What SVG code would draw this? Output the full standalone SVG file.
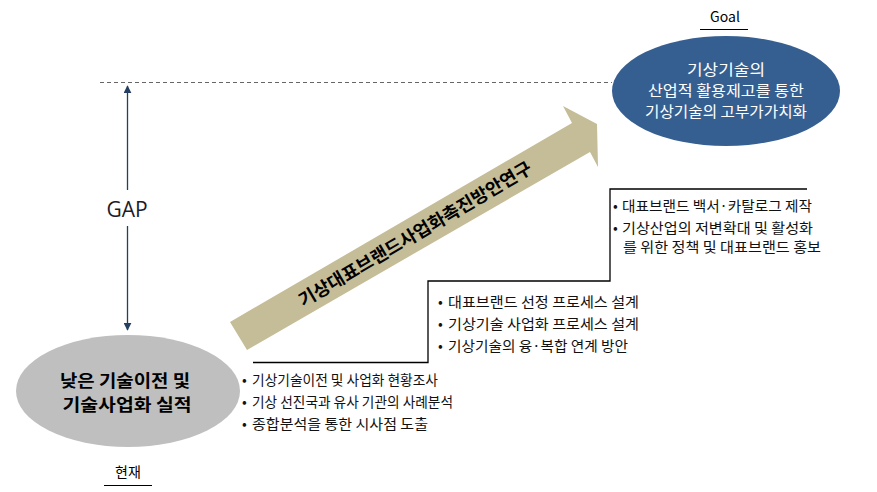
<svg xmlns="http://www.w3.org/2000/svg" width="877" height="492" viewBox="0 0 877 492">
<style>
.kr{font-family:"Noto Sans CJK KR","Noto Sans",sans-serif;}
.bul{font-size:14px;fill:#111;}
.gl{font-size:15px;fill:#fff;text-anchor:middle;}
.step{fill:none;stroke:#000;stroke-width:1.3;}
.gap{stroke:#243f60;stroke-width:1.3;fill:none;}
</style>
<defs>
<marker id="ah" viewBox="0 0 10 10" refX="9" refY="5" markerWidth="8" markerHeight="8" markerUnits="userSpaceOnUse" orient="auto">
<path d="M0,0 L10,5 L0,10 z" fill="#243f60"/>
</marker>
</defs>
<rect width="877" height="492" fill="#fff"/>

<g id="connectors">
<line x1="100" y1="82.5" x2="612" y2="82.5" stroke="#666" stroke-width="1.2" stroke-dasharray="4 3"/>
<line class="gap" x1="127.5" y1="190" x2="127.5" y2="86" marker-end="url(#ah)"/>
<line class="gap" x1="127.5" y1="226" x2="127.5" y2="330" marker-end="url(#ah)"/>
<polyline class="step" points="253,362.5 428,362.5 428,281 610,281 610,189 807,189"/>
</g>

<g id="gap-label">
<text x="127" y="217" font-family="Open Sans, sans-serif" font-size="21" fill="#1c1c2c" text-anchor="middle">GAP</text>
</g>

<g id="arrow">
<polygon points="230,322 572,123 563,106 597,124 598,167 590,152 247,350" fill="#c4bd97"/>
<text class="kr" transform="translate(415,234) rotate(-30.5)" x="0" y="6.5" font-size="18" font-weight="bold" fill="#000" text-anchor="middle" textLength="267" lengthAdjust="spacingAndGlyphs">기상대표브랜드사업화촉진방안연구</text>
</g>

<g id="goal">
<text class="kr" x="725" y="22" font-size="14" fill="#000" text-anchor="middle">Goal</text>
<line x1="700" y1="29.5" x2="748" y2="29.5" stroke="#000" stroke-width="1.2"/>
<ellipse cx="726" cy="91" rx="114" ry="55" fill="#365f91"/>
<text class="kr gl" x="726" y="75" textLength="78" lengthAdjust="spacingAndGlyphs">기상기술의</text>
<text class="kr gl" x="726" y="96" textLength="156" lengthAdjust="spacingAndGlyphs">산업적 활용제고를 통한</text>
<text class="kr gl" x="726" y="117" textLength="162" lengthAdjust="spacingAndGlyphs">기상기술의 고부가가치화</text>
</g>

<g id="current">
<ellipse cx="128" cy="391" rx="112" ry="56" fill="#bfbfbf"/>
<text class="kr" x="125" y="387" font-size="17" font-weight="bold" fill="#000" text-anchor="middle" textLength="130" lengthAdjust="spacingAndGlyphs">낮은 기술이전 및</text>
<text class="kr" x="127" y="411" font-size="17" font-weight="bold" fill="#000" text-anchor="middle" textLength="129" lengthAdjust="spacingAndGlyphs">기술사업화 실적</text>
<text class="kr" x="128" y="477" font-size="14" fill="#000" text-anchor="middle">현재</text>
<line x1="104" y1="485.5" x2="152" y2="485.5" stroke="#000" stroke-width="1.2"/>
</g>

<g id="box1">
<text class="kr bul" x="242" y="385">•</text>
<text class="kr bul" x="252" y="385" textLength="186" lengthAdjust="spacingAndGlyphs">기상기술이전 및 사업화 현황조사</text>
<text class="kr bul" x="242" y="407">•</text>
<text class="kr bul" x="252" y="407" textLength="201" lengthAdjust="spacingAndGlyphs">기상 선진국과 유사 기관의 사례분석</text>
<text class="kr bul" x="242" y="429">•</text>
<text class="kr bul" x="252" y="429" textLength="176" lengthAdjust="spacingAndGlyphs">종합분석을 통한 시사점 도출</text>
</g>

<g id="box2">
<text class="kr bul" x="438" y="307">•</text>
<text class="kr bul" x="448" y="307" textLength="191" lengthAdjust="spacingAndGlyphs">대표브랜드 선정 프로세스 설계</text>
<text class="kr bul" x="438" y="329">•</text>
<text class="kr bul" x="448" y="329" textLength="191" lengthAdjust="spacingAndGlyphs">기상기술 사업화 프로세스 설계</text>
<text class="kr bul" x="438" y="351">•</text>
<text class="kr bul" x="448" y="351" textLength="180" lengthAdjust="spacingAndGlyphs">기상기술의 융·복합 연계 방안</text>
</g>

<g id="box3">
<text class="kr bul" x="613" y="211">•</text>
<text class="kr bul" x="622" y="211" textLength="190" lengthAdjust="spacingAndGlyphs">대표브랜드 백서·카탈로그 제작</text>
<text class="kr bul" x="613" y="233">•</text>
<text class="kr bul" x="622" y="233" textLength="191" lengthAdjust="spacingAndGlyphs">기상산업의 저변확대 및 활성화</text>
<text class="kr bul" x="623" y="252" textLength="198" lengthAdjust="spacingAndGlyphs">를 위한 정책 및 대표브랜드 홍보</text>
</g>
</svg>
